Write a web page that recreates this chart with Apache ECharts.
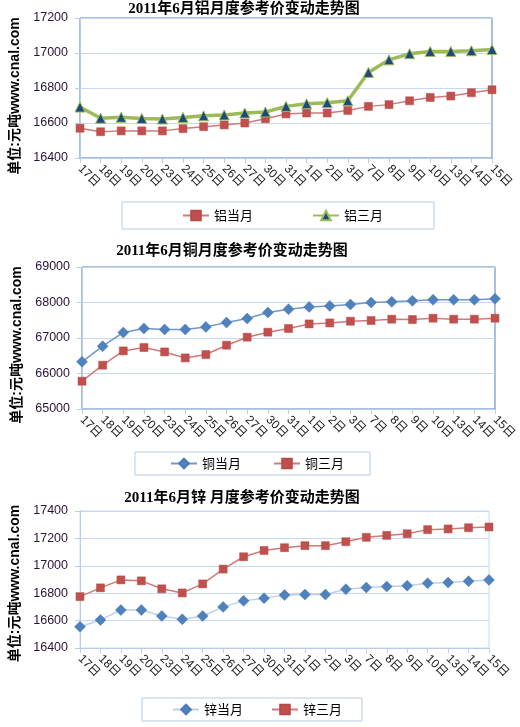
<!DOCTYPE html>
<html><head><meta charset="utf-8">
<script src="https://cdn.jsdelivr.net/npm/echarts@6/dist/echarts.min.js"></script>
<style>html,body{margin:0;padding:0;background:#fff}#c{width:520px;height:727px}</style>
</head><body><div id="c"></div>
<script>
const days = ['17日','18日','19日','20日','23日','24日','25日','26日','27日','30日','31日','1日','2日','3日','7日','8日','9日','10日','13日','14日','15日'];
const alCur = [16570,16550,16555,16555,16555,16568,16579,16589,16600,16624,16652,16657,16657,16672,16695,16705,16727,16746,16754,16773,16790];
const al3m  = [16691,16627,16633,16626,16623,16632,16641,16646,16657,16663,16695,16710,16716,16727,16889,16961,16996,17009,17009,17013,17020];
const cuCur = [66330,66770,67155,67268,67240,67240,67313,67436,67549,67718,67811,67876,67904,67944,68000,68019,68047,68075,68075,68075,68104];
const cu3m  = [65783,66234,66637,66732,66608,66439,66535,66797,67023,67164,67268,67397,67425,67473,67493,67530,67520,67558,67530,67530,67558];
const znCur = [16555,16605,16677,16677,16634,16610,16634,16700,16744,16764,16786,16790,16790,16829,16841,16848,16855,16873,16878,16888,16897];
const zn3m  = [16775,16839,16897,16890,16832,16802,16868,16976,17066,17112,17132,17147,17147,17176,17208,17222,17234,17264,17269,17278,17283];
const titles = ['2011年6月铝月度参考价变动走势图','2011年6月铜月度参考价变动走势图','2011年6月锌 月度参考价变动走势图'];
const names = [['铝当月','铝三月'],['铜当月','铜三月'],['锌当月','锌三月']];
const yName = '单位:元吨www.cnal.com';

const chart = echarts.init(document.getElementById('c'), null, {renderer:'canvas'});
const grids = [
  {left:80, top:18, width:412, height:140, show:true, borderColor:'#4F81BD', borderWidth:1, backgroundColor:'transparent'},
  {left:82, top:267, width:413, height:142, show:true, borderColor:'#4F81BD', borderWidth:1, backgroundColor:'transparent'},
  {left:80, top:511, width:409, height:137, show:true, borderColor:'#C6D9F1', borderWidth:1, backgroundColor:'transparent'}
];
const yRanges = [[16400,17200,200],[65000,69000,1000],[16400,17400,200]];
const namePad = [[0,16,0,0],[0,14,0,0],[0,8,0,0]];
const xAxes = grids.map((g,i)=>({
  type:'category', gridIndex:i, data:days, boundaryGap:false,
  axisLine:{lineStyle:{color:'#B9CDE5',width:1}},
  axisTick:{show:true, length:5, lineStyle:{color:'#B9CDE5'}, alignWithLabel:true},
  axisLabel:{rotate:-45, margin:9, fontSize:12, color:'#222', interval:0, fontFamily:'Liberation Sans, Noto Sans CJK SC'},
  splitLine:{show:false}
}));
const yAxes = grids.map((g,i)=>({
  type:'value', gridIndex:i, min:yRanges[i][0], max:yRanges[i][1], interval:yRanges[i][2],
  name:yName, nameLocation:'middle', nameRotate:90, nameGap:58,
  nameTextStyle:{fontSize:14, fontWeight:'bold', color:'#000', fontFamily:'Liberation Sans, Noto Sans CJK SC', padding:namePad[i]},
  axisLine:{show:true, lineStyle:{color:'#B9CDE5'}},
  axisTick:{show:true, length:5, lineStyle:{color:'#B9CDE5'}},
  axisLabel:{fontSize:12.5, color:'#2A1238', margin:12, fontFamily:'Liberation Sans', formatter:(v)=>String(v)},
  splitLine:{show:true, lineStyle:{color:'#C6D9F1', width:1}}
}));
const redS = (name, data, i) => ({
  name, type:'line', xAxisIndex:i, yAxisIndex:i, data, symbol:'rect', symbolSize:8,
  lineStyle:{color:'#D07A78', width:1.5}, itemStyle:{color:'#C0504D', borderColor:'#B84A47', borderWidth:0.5},
  emphasis:{disabled:true}, animation:false
});
const blueS = (name, data, i, lc) => ({
  name, type:'line', xAxisIndex:i, yAxisIndex:i, data, symbol:'diamond', symbolSize:[11,11],
  lineStyle:{color:lc, width:1.5}, itemStyle:{color:'#4F81BD', borderColor:'#4A7CB8', borderWidth:0.5},
  emphasis:{disabled:true}, animation:false, z:3
});
const series = [
  redS(names[0][0], alCur, 0),
  {name:names[0][1], type:'line', xAxisIndex:0, yAxisIndex:0, data:al3m, symbol:'triangle', symbolSize:[10,10],
   lineStyle:{color:'#9BBB59', width:3.5}, itemStyle:{color:'#1F497D', borderColor:'#9BBB59', borderWidth:1},
   emphasis:{disabled:true}, animation:false, z:3},
  blueS(names[1][0], cuCur, 1, '#6F97CA'),
  redS(names[1][1], cu3m, 1),
  blueS(names[2][0], znCur, 2, '#BDD0E8'),
  redS(names[2][1], zn3m, 2)
];
const titleStyle = {fontSize:15, fontWeight:'bold', color:'#000', fontFamily:'Liberation Serif, Noto Sans CJK SC'};
const legendBase = {orient:'horizontal', itemWidth:26, itemHeight:12, borderColor:'#B9CDE5', borderWidth:1,
  textStyle:{fontSize:13, color:'#000', fontFamily:'Noto Sans CJK SC'}, selectedMode:false};
chart.setOption({
  backgroundColor:'#fff',
  animation:false,
  title:[
    {text:titles[0], left:244, top:2, textAlign:'center', padding:0, textStyle:titleStyle},
    {text:titles[1], left:232, top:244, textAlign:'center', padding:0, textStyle:titleStyle},
    {text:titles[2], left:242, top:491, textAlign:'center', padding:0, textStyle:titleStyle}
  ],
  legend:[
    Object.assign({}, legendBase, {data:names[0], left:122, top:202, padding:[7,51,7,60], itemGap:59}),
    Object.assign({}, legendBase, {data:names[1], left:135, top:452, padding:[5,26,5,35], itemGap:32}),
    Object.assign({}, legendBase, {data:names[2], left:142, top:698, padding:[5,20,5,30], itemGap:28})
  ],
  grid:grids, xAxis:xAxes, yAxis:yAxes, series:series
});
</script></body></html>
